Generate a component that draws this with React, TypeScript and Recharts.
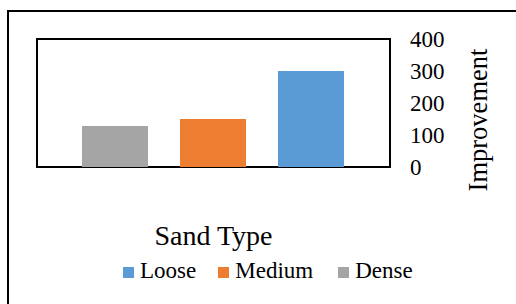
import React from "react";
import { BarChart, Bar, XAxis, YAxis, ReferenceArea } from "recharts";

const categories = ["Sand Type"];
const denseValues = [128];
const mediumValues = [150];
const looseValues = [300];
const yTicks = [0, 100, 200, 300, 400];
const legendOrder = ["Loose", "Medium", "Dense"];
const xTitle = "Sand Type";
const yTitle = "Improvement";

const COLORS: Record<string, string> = {
  Loose: "#5B9BD5",
  Medium: "#ED7D31",
  Dense: "#A5A5A5",
};

const FONT = '"Liberation Serif", "Times New Roman", serif';

const data = categories.map((c, i) => ({
  name: c,
  Dense: denseValues[i],
  Medium: mediumValues[i],
  Loose: looseValues[i],
}));

const itemGaps = [0, 22, 25];

const LegendBlock = () => (
  <div style={{ position: "absolute", left: 0, top: 221, width: 516, height: 70, fontFamily: FONT, color: "#000" }}>
    <div
      style={{
        position: "absolute",
        left: 0,
        top: 0,
        width: 427,
        textAlign: "center",
        fontSize: 28,
        lineHeight: "30px",
        whiteSpace: "nowrap",
      }}
    >
      {xTitle}
    </div>
    <div
      style={{
        position: "absolute",
        left: 123,
        top: 37,
        display: "flex",
        alignItems: "center",
        fontSize: 23,
        lineHeight: "26px",
        whiteSpace: "nowrap",
      }}
    >
      {legendOrder.map((n, i) => (
        <div key={n} style={{ display: "flex", alignItems: "center", marginLeft: itemGaps[i] }}>
          <span style={{ display: "inline-block", width: 11, height: 11, background: COLORS[n], marginRight: 6, marginTop: 2 }} />
          <span>{n}</span>
        </div>
      ))}
    </div>
  </div>
);

const YTitle = (props: any) => {
  const vb = props.viewBox || { x: 390, y: 39, width: 80, height: 128 };
  const cx = vb.x + 88;
  const cy = vb.y + 81;
  return (
    <text
      x={cx}
      y={cy}
      transform={`rotate(-90, ${cx}, ${cy})`}
      textAnchor="middle"
      dominantBaseline="central"
      fontFamily={FONT}
      fontSize={26.5}
      fill="#000"
    >
      {yTitle}
    </text>
  );
};

export default function App() {
  return (
    <div style={{ position: "absolute", left: 0, top: 0, width: 516, height: 304, overflow: "hidden", background: "#fff" }}>
      <div
        style={{
          position: "absolute",
          left: 7,
          top: 10,
          width: 700,
          height: 500,
          borderLeft: "2px solid #000",
          borderTop: "2px solid #000",
        }}
      />
      <div style={{ position: "absolute", left: 0, top: 0, width: 516, height: 304 }}>
        <BarChart
          width={516}
          height={304}
          data={data}
          margin={{ top: 39, left: 37, right: 46, bottom: 137 }}
          barGap={32}
          barCategoryGap={45}
        >
          <XAxis dataKey="name" hide />
          <YAxis
            orientation="right"
            width={80}
            type="number"
            domain={[0, 400]}
            ticks={yTicks}
            axisLine={false}
            tickLine={false}
            tickSize={6}
            tickMargin={14}
            tick={{ fill: "#000", fontSize: 23, fontFamily: FONT }}
            label={{ content: (p: any) => <YTitle {...p} /> }}
          />
          <Bar dataKey="Dense" fill={COLORS.Dense} isAnimationActive={false} />
          <Bar dataKey="Medium" fill={COLORS.Medium} isAnimationActive={false} />
          <Bar dataKey="Loose" fill={COLORS.Loose} isAnimationActive={false} />
          <ReferenceArea y1={0} y2={400} fill="#fff" fillOpacity={0} stroke="#000" strokeOpacity={1} strokeWidth={2} />
        </BarChart>
      </div>
      <LegendBlock />
    </div>
  );
}
